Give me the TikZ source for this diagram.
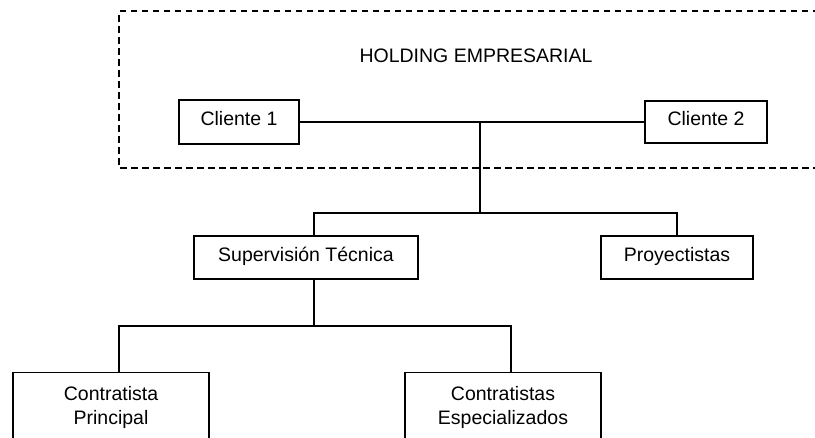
\documentclass[tikz,border=0pt]{standalone}
\usepackage{fontspec}
\setmainfont{Liberation Sans}
\begin{document}
\begin{tikzpicture}[x=1pt,y=-1pt,
  every node/.style={font=\fontsize{19.5}{24}\selectfont},
  box/.style={draw, line width=1.3pt, rectangle, inner sep=0pt,
    text height=0.72em, text depth=0pt},
  twobox/.style={draw, line width=1.3pt, rectangle, inner sep=0pt,
    align=center, anchor=north},
  link/.style={line width=1.3pt},
  frame/.style={line width=1.6pt, dash pattern=on 6.5pt off 4.5pt}]
\clip (0,0) rectangle (815,437);
\fill[white] (0,0) rectangle (815,437);

% holding frame, open to the right
\draw[frame] (830,11) -- (119,11) -- (119,168) -- (830,168);
\node (holding) at (476,56) {HOLDING EMPRESARIAL};

% boxes
\node[box, minimum width=120pt, minimum height=44pt] (cli1) at (239,122) {Cliente 1};
\node[box, minimum width=122pt, minimum height=42pt] (cli2) at (706,122) {Cliente 2};
\node[box, minimum width=224pt, minimum height=43pt] (sup) at (306,257.5) {Supervisión Técnica};
\node[box, minimum width=152pt, minimum height=43pt] (proy) at (677,257.5) {Proyectistas};
\node[twobox, minimum width=196pt, minimum height=70pt] (cp) at (111,372) {Contratista\\Principal};
\node[twobox, minimum width=196pt, minimum height=70pt] (esp) at (503,372) {Contratistas\\Especializados};

% junctions
\coordinate (top) at (480,122);
\coordinate (mid) at (480,213);
\coordinate (low) at (314,326);

% connectors
\draw[link] (cli1.east) -- (cli2.west);
\draw[link] (top) -- (mid);
\draw[link] ([xshift=8pt]sup.north) |- (mid) -| (proy.north);
\draw[link] ([xshift=8pt]sup.south) -- (low);
\draw[link] ([xshift=8pt]cp.north) |- (low) -| ([xshift=8pt]esp.north);
\end{tikzpicture}
\end{document}
